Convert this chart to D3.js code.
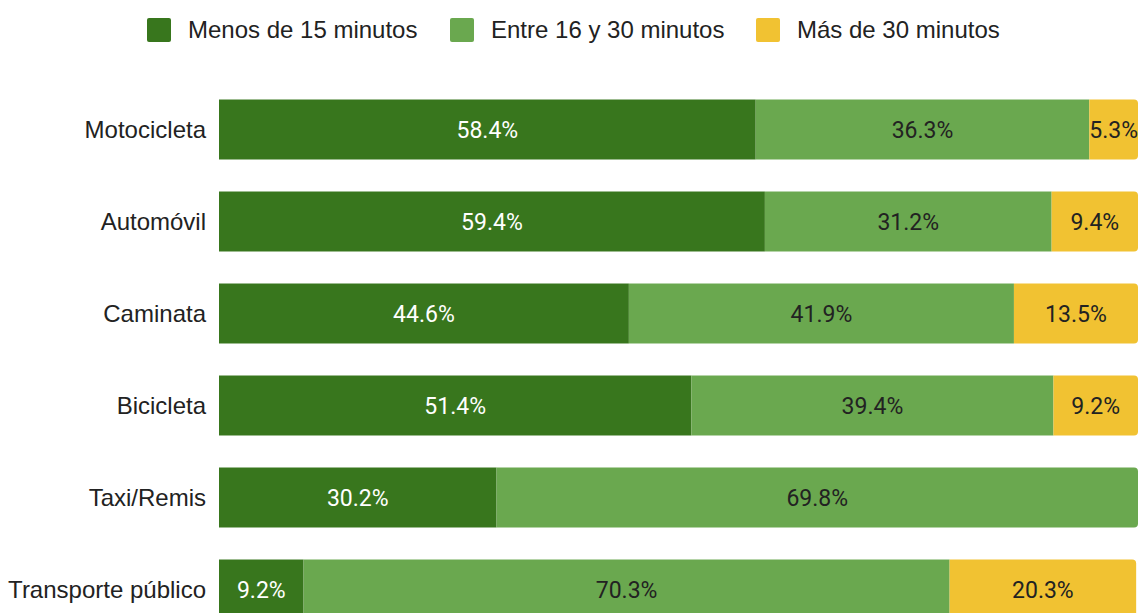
<!DOCTYPE html>
<html>
<head>
<meta charset="utf-8">
<script src="https://cdn.jsdelivr.net/npm/d3@7"></script>
<style>
  body { margin: 0; background: #fff; }
  svg { display: block; }
  .lbl { font-family: "Liberation Sans", Arial, sans-serif; font-size: 24px; fill: #222; }
  .val { font-family: Roboto, sans-serif; font-size: 23px; }
</style>
</head>
<body>
<svg id="chart"></svg>
<script>
// chart data
var categories = ["Motocicleta", "Automóvil", "Caminata", "Bicicleta", "Taxi/Remis", "Transporte público"];
var seriesNames = ["Menos de 15 minutos", "Entre 16 y 30 minutos", "Más de 30 minutos"];
var menos15 = [58.4, 59.4, 44.6, 51.4, 30.2, 9.2];
var entre16y30 = [36.3, 31.2, 41.9, 39.4, 69.8, 70.3];
var mas30 = [5.3, 9.4, 13.5, 9.2, 0, 20.3];

var width = 1140, height = 613;
var colors = ["#38761d", "#6aa84f", "#f1c232"];
var textColors = ["#ffffff", "#222222", "#222222"];

var svg = d3.select("#chart").attr("width", width).attr("height", height);

var rows = categories.map(function (c, i) {
    return { cat: c, values: [menos15[i], entre16y30[i], mas30[i]] };
});

var x = d3.scaleLinear().domain([0, 100]).range([219, 1138]);
var y = d3.scaleBand().domain(categories)
    .range([83.5, 83.5 + 6 * 92])
    .paddingInner(0.348)
    .paddingOuter(0.174);

// legend
var legendX = [147, 450, 756];
var legend = svg.append("g");
seriesNames.forEach(function (name, i) {
    var g = legend.append("g").attr("transform", "translate(" + legendX[i] + ",18)");
    g.append("rect").attr("width", 24).attr("height", 24).attr("rx", 2).attr("fill", colors[i]);
    g.append("text").attr("class", "lbl").attr("x", 41).attr("y", 12).attr("dy", "0.35em")
        .text(name);
});

// bars
function roundedRight(x0, y0, w, h, r) {
    r = Math.min(r, w);
    return "M" + x0 + "," + y0 + "H" + (x0 + w - r) +
        "Q" + (x0 + w) + "," + y0 + " " + (x0 + w) + "," + (y0 + r) +
        "V" + (y0 + h - r) +
        "Q" + (x0 + w) + "," + (y0 + h) + " " + (x0 + w - r) + "," + (y0 + h) +
        "H" + x0 + "Z";
}

var bars = svg.append("g");
rows.forEach(function (row) {
    var start = 0;
    var lastIdx = 0;
    row.values.forEach(function (v, i) { if (v > 0) lastIdx = i; });
    row.values.forEach(function (v, i) {
        if (v <= 0) return;
        var x0 = x(start), x1 = x(start + v);
        var y0 = y(row.cat), h = y.bandwidth();
        if (i === lastIdx) {
            bars.append("path").attr("d", roundedRight(x0, y0, x1 - x0, h, 4)).attr("fill", colors[i]);
        } else {
            bars.append("rect").attr("x", x0).attr("y", y0)
                .attr("width", x1 - x0).attr("height", h).attr("fill", colors[i]);
        }
        bars.append("text").attr("class", "val")
            .attr("x", (x0 + x1) / 2).attr("y", y0 + h / 2).attr("dy", "0.35em")
            .attr("text-anchor", "middle")
            .attr("fill", textColors[i])
            .text(v.toFixed(1) + "%");
        start += v;
    });
});

// category labels
svg.append("g").selectAll("text").data(categories).join("text")
    .attr("class", "lbl")
    .attr("x", 206)
    .attr("y", function (d) { return y(d) + y.bandwidth() / 2; })
    .attr("dy", "0.35em")
    .attr("text-anchor", "end")
    .text(function (d) { return d; });
</script>
</body>
</html>
